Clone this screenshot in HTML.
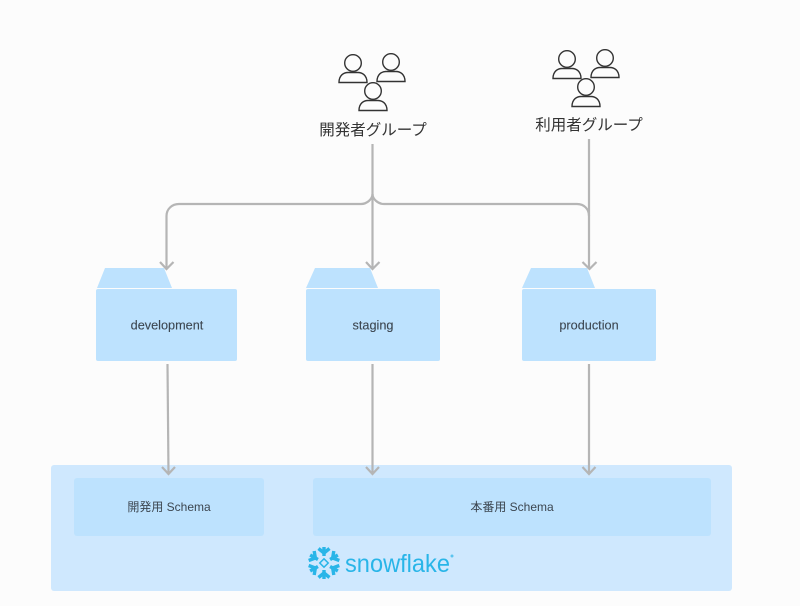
<!DOCTYPE html>
<html><head><meta charset="utf-8">
<style>
html,body{margin:0;padding:0;background:#fcfcfc}
svg{display:block}
.l{font-family:"Liberation Sans","Noto Sans CJK JP",sans-serif;font-size:12px;fill:#3c4650;text-anchor:middle}
.f{font-family:"Liberation Sans",sans-serif;font-size:12.7px;fill:#3c4650;stroke:#3c4650;stroke-width:.1;text-anchor:middle}
.g{font-family:"Liberation Sans","Noto Sans CJK JP",sans-serif;font-size:15.5px;fill:#333;text-anchor:middle}
.c{fill:none;stroke:#b5b5b5;stroke-width:2.2}
.p{fill:none;stroke:#333;stroke-width:1.4}
</style></head>
<body>
<svg width="800" height="606" viewBox="0 0 800 606" xmlns="http://www.w3.org/2000/svg">
<defs>
<g id="person" class="p">
<circle cx="0" cy="0" r="8.3"/>
<path d="M-14 19.500 C-14 12 -9 9.500 -5 9.500 H5 C9 9.500 14 12 14 19.500 Z"/>
</g>
<g id="arm" stroke="#29b5e8" stroke-width="3.400" fill="none" stroke-linecap="butt" stroke-linejoin="miter">
<path d="M0 -7 V-16"/>
<path d="M-5.500 -14.500 L0 -10 L5.500 -14.500"/>
</g>
</defs>

<rect x="51" y="465" width="681" height="126" rx="3" fill="#cfe8fe"/>
<rect x="74" y="478" width="190" height="58" rx="3" fill="#bde2fe"/>
<rect x="313" y="478" width="398" height="58" rx="3" fill="#bde2fe"/>
<text class="l" x="169" y="511">開発用 Schema</text>
<text class="l" x="512" y="511">本番用 Schema</text>

<path d="M105 268 H164 L172 288 H97 Z" fill="#bde2fe"/>
<rect x="96" y="289" width="141" height="72" rx="2" fill="#bde2fe"/>
<path d="M315 268 H370 L378 288 H306 Z" fill="#bde2fe"/>
<rect x="306" y="289" width="134" height="72" rx="2" fill="#bde2fe"/>
<path d="M531 268 H587 L595 288 H522 Z" fill="#bde2fe"/>
<rect x="522" y="289" width="134" height="72" rx="2" fill="#bde2fe"/>
<text class="f" x="167" y="329.500">development</text>
<text class="f" x="373" y="329.500">staging</text>
<text class="f" x="589" y="329.500">production</text>

<use href="#person" x="353" y="63"/>
<use href="#person" x="391" y="62"/>
<use href="#person" x="373" y="91"/>
<use href="#person" x="567" y="59"/>
<use href="#person" x="605" y="58"/>
<use href="#person" x="586" y="87"/>
<text class="g" x="373" y="135">開発者グループ</text>
<text class="g" x="589" y="130">利用者グループ</text>

<path class="c" d="M372.500 144 V269"/>
<path class="c" d="M372.500 194 C372.500 199 367 204 361 204 H179 C172 204 166.500 209 166.500 216 V269"/>
<path class="c" d="M372.500 194 C372.500 199 378 204 384 204 H577 C584 204 589 209 589 216"/>
<path class="c" d="M589 139 V269"/>
<path class="c" d="M160 262 L166.500 269 L173.500 262"/>
<path class="c" d="M366 262 L372.500 269 L379.500 262"/>
<path class="c" d="M582.500 262 L589.500 269 L596.500 262"/>

<path class="c" d="M167.500 364 L168.500 474"/>
<path class="c" d="M162 467 L168.500 474 L175 467"/>
<path class="c" d="M372.500 364 V474"/>
<path class="c" d="M366 467 L372.500 474 L379 467"/>
<path class="c" d="M589 364 V474"/>
<path class="c" d="M582.500 467 L589 474 L595.500 467"/>

<g transform="translate(324 563)">
<use href="#arm"/>
<use href="#arm" transform="rotate(60)"/>
<use href="#arm" transform="rotate(120)"/>
<use href="#arm" transform="rotate(180)"/>
<use href="#arm" transform="rotate(240)"/>
<use href="#arm" transform="rotate(300)"/>
<rect x="-3" y="-3" width="6" height="6" transform="rotate(45)" fill="none" stroke="#29b5e8" stroke-width="1.500"/>
</g>
<text x="345" y="572" font-family="'Liberation Sans',sans-serif" font-size="25" fill="#29b5e8" textLength="105" lengthAdjust="spacingAndGlyphs">snowflake</text>
<circle cx="452" cy="556" r="1.500" fill="#29b5e8" opacity=".7"/>
</svg>
</body></html>
